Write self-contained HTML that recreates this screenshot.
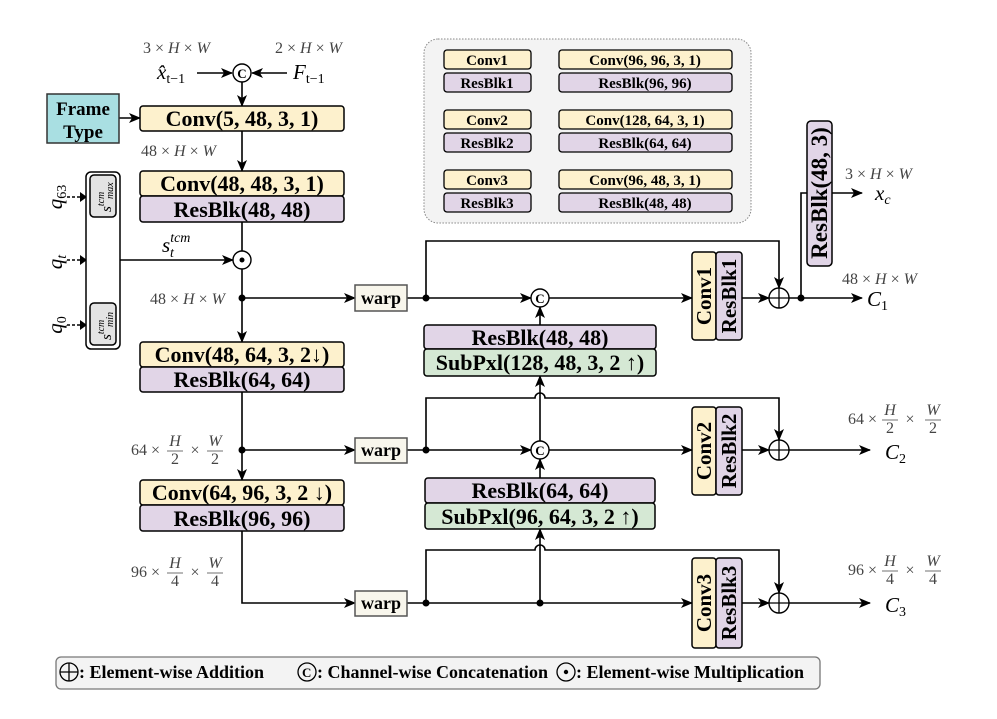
<!DOCTYPE html>
<html><head><meta charset="utf-8"><style>
html,body{margin:0;padding:0;background:#fff;}
svg{display:block;}
.b{font-family:"Liberation Serif",serif;font-weight:bold;fill:#000;}
.m{font-family:"Liberation Serif",serif;font-style:italic;fill:#000;}
.d{font-family:"Liberation Serif",serif;fill:#444;font-size:16px;}
</style></head><body>
<svg width="997" height="719" viewBox="0 0 997 719" xmlns="http://www.w3.org/2000/svg">
<defs>
<marker id="a" markerWidth="12" markerHeight="10" refX="11" refY="5" orient="auto" markerUnits="userSpaceOnUse">
<path d="M0,0 L12,5 L0,10 L3,5 z" fill="#000"/></marker>
</defs>
<g stroke="#000" stroke-width="1.6" fill="none">
<line x1="197" y1="73" x2="232" y2="73" marker-end="url(#a)"/>
<line x1="287" y1="73" x2="252" y2="73" marker-end="url(#a)"/>
<line x1="242" y1="82" x2="242" y2="106" marker-end="url(#a)"/>
<line x1="119" y1="118" x2="140" y2="118" marker-end="url(#a)"/>
<line x1="242" y1="131" x2="242" y2="171" marker-end="url(#a)"/>
<line x1="242" y1="222" x2="242" y2="251"/>
<line x1="120" y1="260" x2="233" y2="260" marker-end="url(#a)"/>
<line x1="242" y1="269" x2="242" y2="342" marker-end="url(#a)"/>
<line x1="242" y1="298" x2="355" y2="298" marker-end="url(#a)"/>
<line x1="242" y1="392" x2="242" y2="480" marker-end="url(#a)"/>
<line x1="242" y1="450" x2="355" y2="450" marker-end="url(#a)"/>
<path d="M242,531 V603 H355" marker-end="url(#a)"/>
<line x1="102" y1="260" x2="102" y2="218" marker-end="url(#a)"/>
<line x1="102" y1="260" x2="102" y2="302" marker-end="url(#a)"/>
<line x1="407" y1="298" x2="531" y2="298" marker-end="url(#a)"/>
<path d="M426,298 V241 H779 V288" marker-end="url(#a)"/>
<line x1="549" y1="298" x2="692" y2="298" marker-end="url(#a)"/>
<line x1="540" y1="325" x2="540" y2="307" marker-end="url(#a)"/>
<line x1="742" y1="298" x2="769" y2="298" marker-end="url(#a)"/>
<line x1="789" y1="298" x2="862" y2="298" marker-end="url(#a)"/>
<path d="M801,298 V193 H862" marker-end="url(#a)"/>
<line x1="407" y1="450" x2="531" y2="450" marker-end="url(#a)"/>
<path d="M426,450 V398 H535 A5,5 0 0 1 545,398 H779 V440" marker-end="url(#a)"/>
<line x1="549" y1="450" x2="692" y2="450" marker-end="url(#a)"/>
<line x1="540" y1="441" x2="540" y2="376" marker-end="url(#a)"/>
<line x1="540" y1="478" x2="540" y2="459" marker-end="url(#a)"/>
<line x1="742" y1="450" x2="769" y2="450" marker-end="url(#a)"/>
<line x1="789" y1="450" x2="870" y2="450" marker-end="url(#a)"/>
<line x1="407" y1="603" x2="692" y2="603" marker-end="url(#a)"/>
<path d="M426,603 V550 H535 A5,5 0 0 1 545,550 H779 V593" marker-end="url(#a)"/>
<line x1="540" y1="603" x2="540" y2="529" marker-end="url(#a)"/>
<line x1="742" y1="603" x2="769" y2="603" marker-end="url(#a)"/>
<line x1="789" y1="603" x2="870" y2="603" marker-end="url(#a)"/>
<line x1="531" y1="59" x2="559" y2="59" marker-end="url(#a)"/>
<line x1="531" y1="82" x2="559" y2="82" marker-end="url(#a)"/>
<line x1="531" y1="119" x2="559" y2="119" marker-end="url(#a)"/>
<line x1="531" y1="142" x2="559" y2="142" marker-end="url(#a)"/>
<line x1="531" y1="179" x2="559" y2="179" marker-end="url(#a)"/>
<line x1="531" y1="202" x2="559" y2="202" marker-end="url(#a)"/>
</g>
<g stroke="#000" stroke-width="1.4" stroke-dasharray="3,2" fill="none">
<line x1="67" y1="197" x2="84" y2="197"/><line x1="67" y1="260" x2="84" y2="260"/><line x1="67" y1="325" x2="84" y2="325"/>
</g>
<g fill="#000"><path d="M80,192 L87,197 L80,202z"/><path d="M80,255 L87,260 L80,265z"/><path d="M80,320 L87,325 L80,330z"/></g>
<g fill="#000"><circle cx="242" cy="298" r="3.5"/><circle cx="242" cy="450" r="3.5"/><circle cx="426" cy="298" r="3.5"/><circle cx="426" cy="450" r="3.5"/><circle cx="426" cy="603" r="3.5"/><circle cx="540" cy="603" r="3.5"/><circle cx="801" cy="298" r="3.5"/></g>
<rect x="424" y="39" width="327" height="184" rx="14" fill="#f3f3f3" stroke="#888" stroke-dasharray="1.5,1.5"/>
<g stroke="#000" stroke-width="1.3">
<rect x="444" y="50" width="87" height="19" rx="3" fill="#fdf1cd"/><rect x="559" y="50" width="173" height="19" rx="3" fill="#fdf1cd"/>
<rect x="444" y="73" width="87" height="19" rx="3" fill="#e1d5e7"/><rect x="559" y="73" width="173" height="19" rx="3" fill="#e1d5e7"/>
<rect x="444" y="110" width="87" height="19" rx="3" fill="#fdf1cd"/><rect x="559" y="110" width="173" height="19" rx="3" fill="#fdf1cd"/>
<rect x="444" y="133" width="87" height="19" rx="3" fill="#e1d5e7"/><rect x="559" y="133" width="173" height="19" rx="3" fill="#e1d5e7"/>
<rect x="444" y="170" width="87" height="19" rx="3" fill="#fdf1cd"/><rect x="559" y="170" width="173" height="19" rx="3" fill="#fdf1cd"/>
<rect x="444" y="193" width="87" height="19" rx="3" fill="#e1d5e7"/><rect x="559" y="193" width="173" height="19" rx="3" fill="#e1d5e7"/>
</g>
<g class="b" font-size="15" text-anchor="middle">
<text x="487" y="65">Conv1</text><text x="645" y="65">Conv(96, 96, 3, 1)</text>
<text x="487" y="88">ResBlk1</text><text x="645" y="88">ResBlk(96, 96)</text>
<text x="487" y="125">Conv2</text><text x="645" y="125">Conv(128, 64, 3, 1)</text>
<text x="487" y="148">ResBlk2</text><text x="645" y="148">ResBlk(64, 64)</text>
<text x="487" y="185">Conv3</text><text x="645" y="185">Conv(96, 48, 3, 1)</text>
<text x="487" y="208">ResBlk3</text><text x="645" y="208">ResBlk(48, 48)</text>
</g>
<g stroke="#000" stroke-width="1.5">
<rect x="47" y="94" width="72" height="49" fill="#a9dfe2" stroke="#333"/>
<rect x="140" y="106" width="204" height="25" rx="3" fill="#fdf1cd"/>
<rect x="140" y="171" width="204" height="25" rx="3" fill="#fdf1cd"/>
<rect x="140" y="196" width="204" height="26" rx="3" fill="#e1d5e7"/>
<rect x="140" y="342" width="204" height="25" rx="3" fill="#fdf1cd"/>
<rect x="140" y="367" width="204" height="25" rx="3" fill="#e1d5e7"/>
<rect x="140" y="480" width="204" height="25" rx="3" fill="#fdf1cd"/>
<rect x="140" y="505" width="204" height="26" rx="3" fill="#e1d5e7"/>
<rect x="424" y="325" width="232" height="24" rx="3" fill="#e1d5e7"/>
<rect x="424" y="349" width="232" height="27" rx="3" fill="#d5e8d4"/>
<rect x="425" y="478" width="230" height="25" rx="3" fill="#e1d5e7"/>
<rect x="425" y="503" width="230" height="26" rx="3" fill="#d5e8d4"/>
<rect x="692" y="252" width="24" height="88" rx="3" fill="#fdf1cd"/><rect x="716" y="252" width="26" height="88" rx="3" fill="#e1d5e7"/>
<rect x="692" y="407" width="24" height="88" rx="3" fill="#fdf1cd"/><rect x="716" y="407" width="26" height="88" rx="3" fill="#e1d5e7"/>
<rect x="692" y="558" width="24" height="90" rx="3" fill="#fdf1cd"/><rect x="716" y="558" width="26" height="90" rx="3" fill="#e1d5e7"/>
<rect x="807" y="121" width="25" height="145" rx="4" fill="#e1d5e7"/>
<rect x="86" y="172" width="34" height="177" rx="5" fill="#fff"/>
<rect x="90" y="175" width="26" height="42" rx="4" fill="#e3e3e3"/>
<rect x="90" y="303" width="26" height="42" rx="4" fill="#e3e3e3"/>
</g>
<g stroke="#555" stroke-width="1.5" fill="#f8f6ec">
<rect x="355" y="285" width="52" height="26"/><rect x="355" y="438" width="52" height="25"/><rect x="355" y="591" width="52" height="25"/>
</g>
<g class="b" font-size="18" text-anchor="middle"><text x="381" y="304">warp</text><text x="381" y="456">warp</text><text x="381" y="609">warp</text></g>
<g class="b" font-size="19" text-anchor="middle"><text x="83" y="115">Frame</text><text x="83" y="138">Type</text></g>
<g class="b" font-size="22" text-anchor="middle">
<text x="242" y="126">Conv(5, 48,  3, 1)</text>
<text x="242" y="191">Conv(48, 48, 3, 1)</text>
<text x="242" y="217">ResBlk(48, 48)</text>
<text x="242" y="362">Conv(48, 64, 3, 2↓)</text>
<text x="242" y="387">ResBlk(64, 64)</text>
<text x="242" y="500">Conv(64, 96, 3, 2 ↓)</text>
<text x="242" y="526">ResBlk(96, 96)</text>
<text x="540" y="345">ResBlk(48, 48)</text>
<text x="540" y="370">SubPxl(128, 48, 3, 2 ↑)</text>
<text x="540" y="498">ResBlk(64, 64)</text>
<text x="540" y="524">SubPxl(96, 64, 3, 2 ↑)</text>
</g>
<g class="b" font-size="21" text-anchor="middle">
<text transform="translate(711,296) rotate(-90)">Conv1</text><text transform="translate(736,296) rotate(-90)">ResBlk1</text>
<text transform="translate(711,451) rotate(-90)">Conv2</text><text transform="translate(736,451) rotate(-90)">ResBlk2</text>
<text transform="translate(711,603) rotate(-90)">Conv3</text><text transform="translate(736,603) rotate(-90)">ResBlk3</text>
<text transform="translate(827,193) rotate(-90)" font-size="23">ResBlk(48, 3)</text>
</g>
<g stroke="#000" stroke-width="1.4" fill="#fff">
<circle cx="242" cy="73" r="9"/><circle cx="540" cy="298" r="9"/><circle cx="540" cy="450" r="9"/>
<circle cx="242" cy="260" r="9"/>
<circle cx="779" cy="298" r="10"/><circle cx="779" cy="450" r="10"/><circle cx="779" cy="603" r="10"/>
</g>
<g stroke="#000" stroke-width="1.3"><path d="M769,298H789M779,288V308M769,450H789M779,440V460M769,603H789M779,593V613"/></g>
<circle cx="242" cy="260" r="2.5" fill="#000"/>
<g class="b" font-size="13" text-anchor="middle"><text x="242" y="78">C</text><text x="540" y="303">C</text><text x="540" y="455">C</text></g>
<g class="d"><text x="143" y="53">3 × <tspan font-style="italic">H</tspan> × <tspan font-style="italic">W</tspan></text>
<text x="275" y="53">2 × <tspan font-style="italic">H</tspan> × <tspan font-style="italic">W</tspan></text>
<text x="141" y="156">48 × <tspan font-style="italic">H</tspan> × <tspan font-style="italic">W</tspan></text>
<text x="150" y="304">48 × <tspan font-style="italic">H</tspan> × <tspan font-style="italic">W</tspan></text>
<text x="845" y="179">3 × <tspan font-style="italic">H</tspan> × <tspan font-style="italic">W</tspan></text>
<text x="842" y="284">48 × <tspan font-style="italic">H</tspan> × <tspan font-style="italic">W</tspan></text>
</g>
<g class="d" text-anchor="middle">
<text x="160" y="455" text-anchor="end">64 ×</text><text x="175" y="446" font-style="italic">H</text><text x="175" y="464">2</text><text x="195" y="455">×</text><text x="215" y="446" font-style="italic">W</text><text x="215" y="464">2</text>
<text x="160" y="577" text-anchor="end">96 ×</text><text x="175" y="568" font-style="italic">H</text><text x="175" y="586">4</text><text x="195" y="577">×</text><text x="215" y="568" font-style="italic">W</text><text x="215" y="586">4</text>
<text x="877" y="424" text-anchor="end">64 ×</text><text x="890" y="415" font-style="italic">H</text><text x="890" y="433">2</text><text x="910" y="424">×</text><text x="933" y="415" font-style="italic">W</text><text x="933" y="433">2</text>
<text x="877" y="575" text-anchor="end">96 ×</text><text x="890" y="566" font-style="italic">H</text><text x="890" y="584">4</text><text x="910" y="575">×</text><text x="933" y="566" font-style="italic">W</text><text x="933" y="584">4</text>
</g>
<g stroke="#444" stroke-width="0.8"><path d="M167,451H183M207,451H223M167,573H183M207,573H223M882,420H898M925,420H941M882,571H898M925,571H941"/></g>
<g class="m" font-size="21">
<text x="157" y="79">x̂<tspan font-size="14" dy="4" font-style="normal">t−1</tspan></text>
<text x="293" y="79">F<tspan font-size="14" dy="4" font-style="normal">t−1</tspan></text>
<text x="162" y="252">s<tspan font-size="14" dy="-10">tcm</tspan></text>
<text x="170" y="257" font-size="14">t</text>
<text x="875" y="200">x<tspan font-size="14" dy="4">c</tspan></text>
<text x="867" y="306">C<tspan font-size="14" dy="4" font-style="normal">1</tspan></text>
<text x="885" y="459">C<tspan font-size="14" dy="4" font-style="normal">2</tspan></text>
<text x="885" y="612">C<tspan font-size="14" dy="4" font-style="normal">3</tspan></text>
<text transform="translate(62,197) rotate(-90)" text-anchor="middle">q<tspan font-size="14" dy="4" font-style="normal">63</tspan></text>
<text transform="translate(62,262) rotate(-90)" text-anchor="middle">q<tspan font-size="14" dy="4">t</tspan></text>
<text transform="translate(62,325) rotate(-90)" text-anchor="middle">q<tspan font-size="14" dy="4" font-style="normal">0</tspan></text>
</g>
<g class="m" font-size="15">
<text transform="translate(111,212) rotate(-90)">s<tspan font-size="10" dy="-7">tcm</tspan></text>
<text transform="translate(111,340) rotate(-90)">s<tspan font-size="10" dy="-7">tcm</tspan></text>
<text transform="translate(113,199) rotate(-90)" font-size="10">max</text>
<text transform="translate(113,327) rotate(-90)" font-size="10">min</text>
</g>
<rect x="56" y="657" width="764" height="32" rx="5" fill="#f3f3f3" stroke="#777" stroke-width="1.3"/>
<g stroke="#000" stroke-width="1.3" fill="none"><circle cx="69" cy="672" r="9"/><path d="M60,672H78M69,663V681"/><circle cx="307" cy="672" r="9"/><circle cx="566" cy="672" r="9"/></g>
<circle cx="566" cy="672" r="2.2" fill="#000"/>
<g class="b" font-size="18"><text x="302" y="677" font-size="13">C</text>
<text x="79" y="678">: Element-wise Addition</text>
<text x="317" y="678">: Channel-wise Concatenation</text>
<text x="576" y="678">: Element-wise Multiplication</text></g>
</svg>
</body></html>
